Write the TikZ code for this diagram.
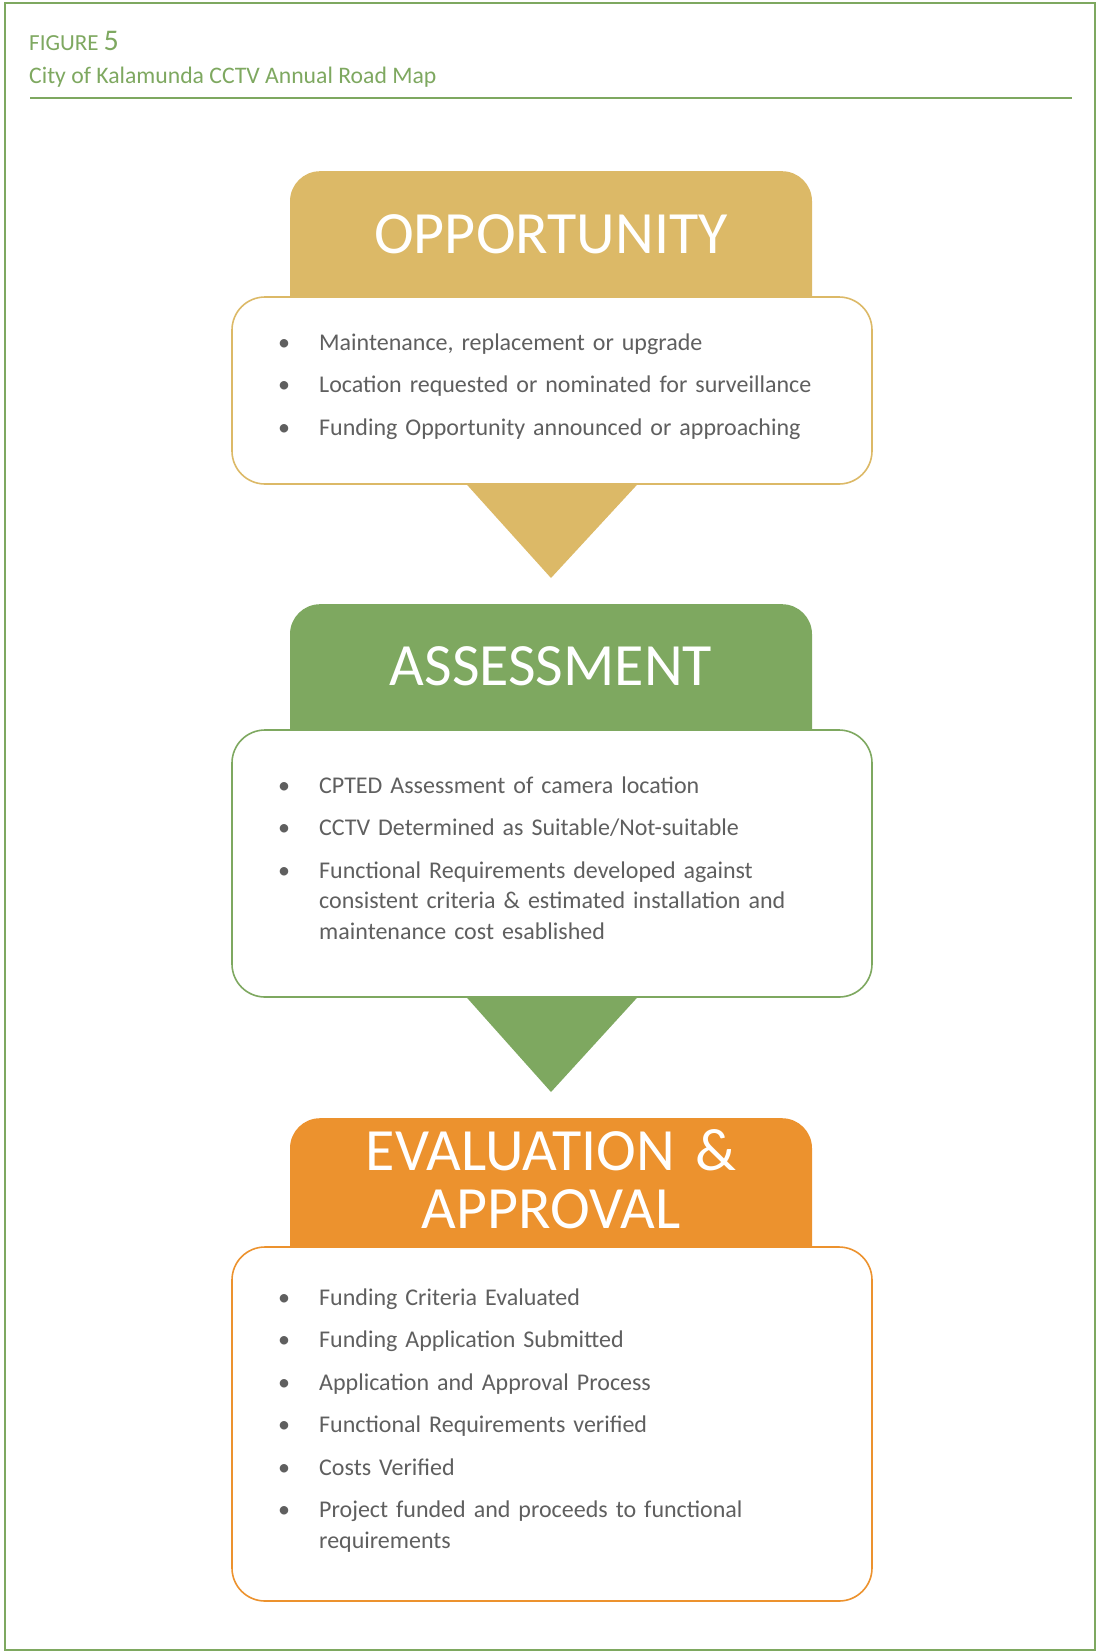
\documentclass[tikz,border=0pt]{standalone}
\usepackage{fontspec}
\setmainfont{Carlito}
\usetikzlibrary{positioning}
\definecolor{gold}{HTML}{DCB967}
\definecolor{leaf}{HTML}{7EA860}
\definecolor{amber}{HTML}{EC922E}
\definecolor{ink}{HTML}{5F5F5F}
% one bullet of a card
\newcommand\bitem[1]{\hangindent=41pt\hangafter=1\noindent\makebox[41pt][l]{\textbullet}#1\par}

\begin{document}
\begin{tikzpicture}[x=1pt,y=-1pt,
  head/.style={fill=#1,rounded corners=30pt,minimum width=522pt,minimum height=170pt,anchor=north,inner sep=0pt},
  card/.style={draw=#1,line width=1.6pt,fill=white,rounded corners=33pt,minimum width=640pt,inner sep=0pt},
  title/.style={text=white,font=\fontsize{60}{58}\selectfont,inner sep=0pt,anchor=base,text width=520pt,align=center},
  list/.style={text=ink,font=\fontsize{24}{30.5}\selectfont,text width=560pt,inner sep=0pt,anchor=base west,align=left,
    execute at begin node=\setlength\parskip{12pt}}]
\useasboundingbox (0,0) rectangle (1097,1652);
% frame and heading
\draw[leaf,line width=2pt] (5,3) rectangle (1095,1650);
\node[anchor=base west,inner sep=0pt,text=leaf,font=\fontsize{23}{23}\selectfont] (fig) at (29,50) {FIGURE {\fontsize{30}{30}\selectfont 5}};
\node[anchor=base west,inner sep=0pt,text=leaf,font=\fontsize{23.7}{23}\selectfont] (caption) at (29,83) {City of Kalamunda CCTV Annual Road Map};
\draw[leaf,line width=2.5pt] (30,98) -- (1072,98);

% opportunity
\node[head=gold] (oppHead) at (551,171) {};
\node[card=gold,minimum height=187pt] (oppCard) at (552,390.5) {};
\coordinate (oppTip) at (551,578);
\fill[gold] ([xshift=-85pt]oppCard.south) -- ([xshift=85pt]oppCard.south) -- (oppTip) -- cycle;
\node[title] (oppTitle) at (551,253) {OPPORTUNITY};
\node[list] (oppList) at (278,350) {%
  \bitem{Maintenance, replacement or upgrade}
  \bitem{Location requested or nominated for surveillance}
  \bitem{Funding Opportunity announced or approaching}};

% assessment
\node[head=leaf] (assHead) at (551,604) {};
\node[card=leaf,minimum height=267pt] (assCard) at (552,863.5) {};
\coordinate (assTip) at (551,1092);
\fill[leaf] ([xshift=-85pt]assCard.south) -- ([xshift=85pt]assCard.south) -- (assTip) -- cycle;
\node[title] (assTitle) at (551,685) {ASSESSMENT};
\node[list] (assList) at (278,793) {%
  \bitem{CPTED Assessment of camera location}
  \bitem{CCTV Determined as Suitable/Not-suitable}
  \bitem{Functional Requirements developed against\newline consistent criteria \& estimated installation and\newline maintenance cost esablished}};

% evaluation and approval
\node[head=amber] (evalHead) at (551,1118) {};
\node[card=amber,minimum height=354pt] (evalCard) at (552,1424) {};
\node[title] (evalTitle) at (551,1170) {EVALUATION \&\\APPROVAL};
\node[list] (evalList) at (278,1305) {%
  \bitem{Funding Criteria Evaluated}
  \bitem{Funding Application Submitted}
  \bitem{Application and Approval Process}
  \bitem{Functional Requirements verified}
  \bitem{Costs Verified}
  \bitem{Project funded and proceeds to functional\newline requirements}};
\end{tikzpicture}
\end{document}
